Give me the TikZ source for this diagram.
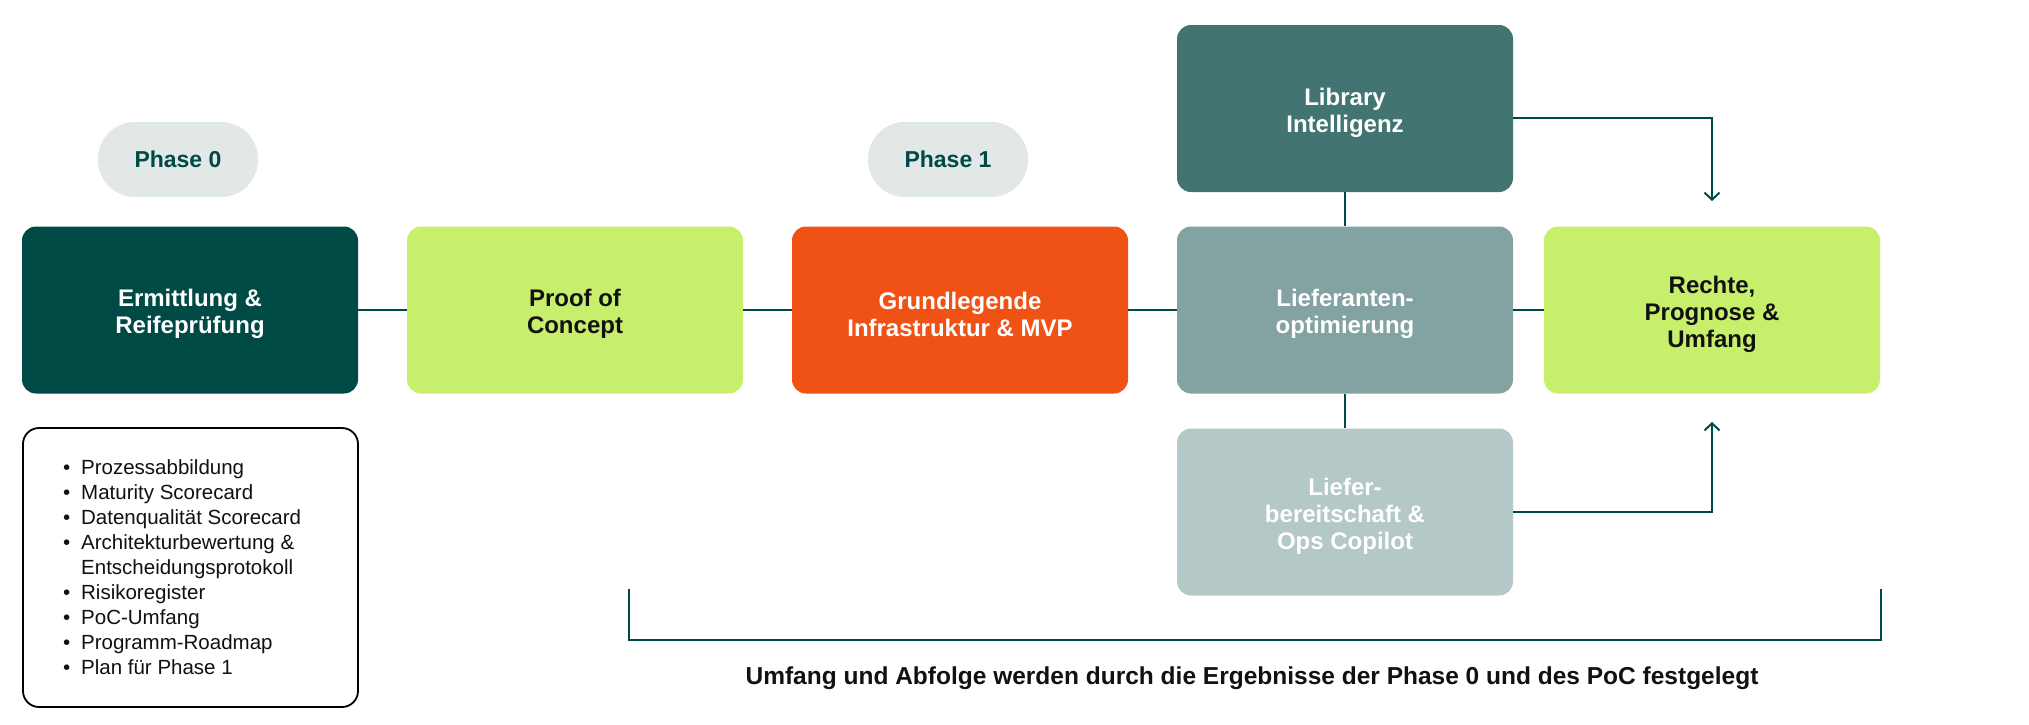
\documentclass[tikz,border=0pt]{standalone}
\usepackage{fontspec}
\setmainfont{Liberation Sans}
\usetikzlibrary{arrows.meta,calc}
\definecolor{dk}{HTML}{004A45}
\definecolor{lime}{HTML}{C8EF6B}
\definecolor{orng}{HTML}{F05215}
\definecolor{libc}{HTML}{427571}
\definecolor{liefc}{HTML}{82A3A1}
\definecolor{bereitc}{HTML}{B3C8C7}
\definecolor{pillc}{HTML}{E1E8E6}
\definecolor{ink}{HTML}{111111}
\newcommand{\lstrut}{\rule[-7pt]{0pt}{24pt}}
\newcommand{\bul}{\lstrut\makebox[18pt][l]{•}}
\newcommand{\tup}{\rule{0pt}{25.5pt}}
\begin{document}
\begin{tikzpicture}[x=1pt,y=-1pt,
  stagebox/.style={rounded corners=14pt, minimum width=336pt, minimum height=167pt,
    align=center, inner sep=0pt, font=\fontsize{24}{27}\selectfont\bfseries},
  pill/.style={rounded corners=37pt, minimum width=160pt, minimum height=75pt,
    fill=pillc, text=dk, inner sep=0pt, font=\fontsize{23}{27}\selectfont\bfseries},
  link/.style={draw=dk, line width=2pt},
  arr/.style={link, -{Straight Barb[length=7pt,width=15pt]}}]
\useasboundingbox (0,0) rectangle (2029,724);
\fill[white] (0,0) rectangle (2029,724);

\node[pill] (ph0) at (178,159.5) {Phase 0};
\node[pill] (ph1) at (948,159.5) {Phase 1};

\node[stagebox, fill=dk, text=white] (erm) at (190,310) {\tup Ermittlung \&\\Reifeprüfung};
\node[stagebox, fill=lime, text=ink] (poc) at (575,310) {\tup Proof of\\Concept};
\node[stagebox, fill=orng, text=white] (inf) at (960,310) {\tup Grundlegende\\Infrastruktur \& MVP};
\node[stagebox, fill=libc, text=white] (lib) at (1345,108.5) {\tup Library\\Intelligenz};
\node[stagebox, fill=liefc, text=white] (lief) at (1345,310) {\tup Lieferanten-\\optimierung};
\node[stagebox, fill=bereitc, text=white] (ber) at (1345,512) {\tup Liefer-\\bereitschaft \&\\Ops Copilot};
\node[stagebox, fill=lime, text=ink] (rec) at (1712,310) {\tup Rechte,\\Prognose \&\\Umfang};

\draw[link] (erm.east) -- (poc.west);
\draw[link] (poc.east) -- (inf.west);
\draw[link] (inf.east) -- (lief.west);
\draw[link] (lief.east) -- (rec.west);
\draw[link] (lib.south) -- (lief.north);
\draw[link] (lief.south) -- (ber.north);

\coordinate (topin) at (1712,201);
\coordinate (botin) at (1712,422);
\draw[arr] ([yshift=-9pt]lib.east) -| (topin);
\draw[arr] (ber.east) -| (botin);

\node[draw=black, line width=1.8pt, rounded corners=16pt, minimum width=335pt,
  minimum height=279pt, inner sep=0pt] (list) at (190.5,567.5) {};
\node[anchor=west, inner sep=0pt, text=ink, align=left,
  font=\fontsize{20.5}{25}\selectfont] (items) at (63,569) {%
  \bul Prozessabbildung\\
  \bul Maturity Scorecard\\
  \bul Datenqualität Scorecard\\
  \bul Architekturbewertung \&\\
  \lstrut\hspace*{18pt}Entscheidungsprotokoll\\
  \bul Risikoregister\\
  \bul PoC-Umfang\\
  \bul Programm-Roadmap\\
  \bul Plan für Phase 1};

\coordinate (brL) at (629,589);
\coordinate (brR) at (1881,589);
\draw[link] (brL) -- ++(0,51) -| (brR);
\node[text=ink, font=\fontsize{24.5}{28}\selectfont\bfseries] (cap) at (1252,678)
  {Umfang und Abfolge werden durch die Ergebnisse der Phase 0 und des PoC festgelegt};
\end{tikzpicture}
\end{document}
